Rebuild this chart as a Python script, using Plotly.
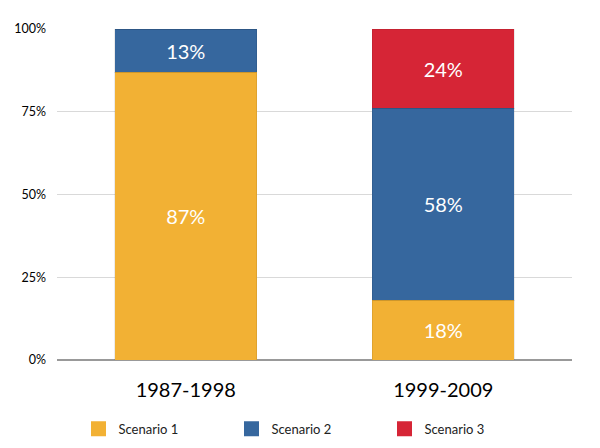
import plotly.graph_objects as go

periods = ["1987-1998", "1999-2009"]
scenario1 = [87, 18]
scenario2 = [13, 58]
scenario3 = [0, 24]
series_names = ["Scenario 1", "Scenario 2", "Scenario 3"]
colors = ["#F2B134", "#36679E", "#D62536"]
y_ticks = [0, 25, 50, 75, 100]

fig = go.Figure()
for name, vals, col in zip(series_names, [scenario1, scenario2, scenario3], colors):
    labels = [f"{v}%" if v > 0 else "" for v in vals]
    fig.add_trace(go.Bar(
        x=periods, y=vals, name=name, marker=dict(color=col, line=dict(width=1, color="rgba(0,0,0,0.08)")),
        text=labels, textposition="inside", insidetextanchor="middle",
        textfont=dict(color="white", size=20, family="Lato"),
        showlegend=False, hoverinfo="skip",
    ))
    fig.add_trace(go.Scatter(
        x=[None], y=[None], mode="markers", name=name,
        marker=dict(symbol="square", size=15, color=col),
        showlegend=True,
    ))

fig.update_layout(
    barmode="stack", bargap=0.45,
    width=600, height=448,
    margin=dict(l=49, r=36, t=21, b=96, autoexpand=False),
    plot_bgcolor="white", paper_bgcolor="white",
    font=dict(family="Lato", color="black"),
    legend=dict(orientation="h", x=0.1175, xanchor="left", y=0.027, yanchor="bottom",
                xref="container", yref="container", traceorder="normal",
                entrywidth=108, entrywidthmode="pixels", itemsizing="trace",
                font=dict(size=13, color="#222")),
)
fig.update_xaxes(showgrid=False, showline=False, ticks="", tickfont=dict(size=20, color="black"),
                 ticklabelstandoff=16)
fig.update_yaxes(range=[0, 100], tickvals=y_ticks, ticktext=[f"{v}%" for v in y_ticks], showgrid=True,
                 gridcolor="#D9D9D9", gridwidth=1, zeroline=True, zerolinecolor="#999999",
                 zerolinewidth=1.5, tickfont=dict(size=12.5, color="black"), ticks="",
                 ticklabelstandoff=10)
fig.write_html("out.html")
